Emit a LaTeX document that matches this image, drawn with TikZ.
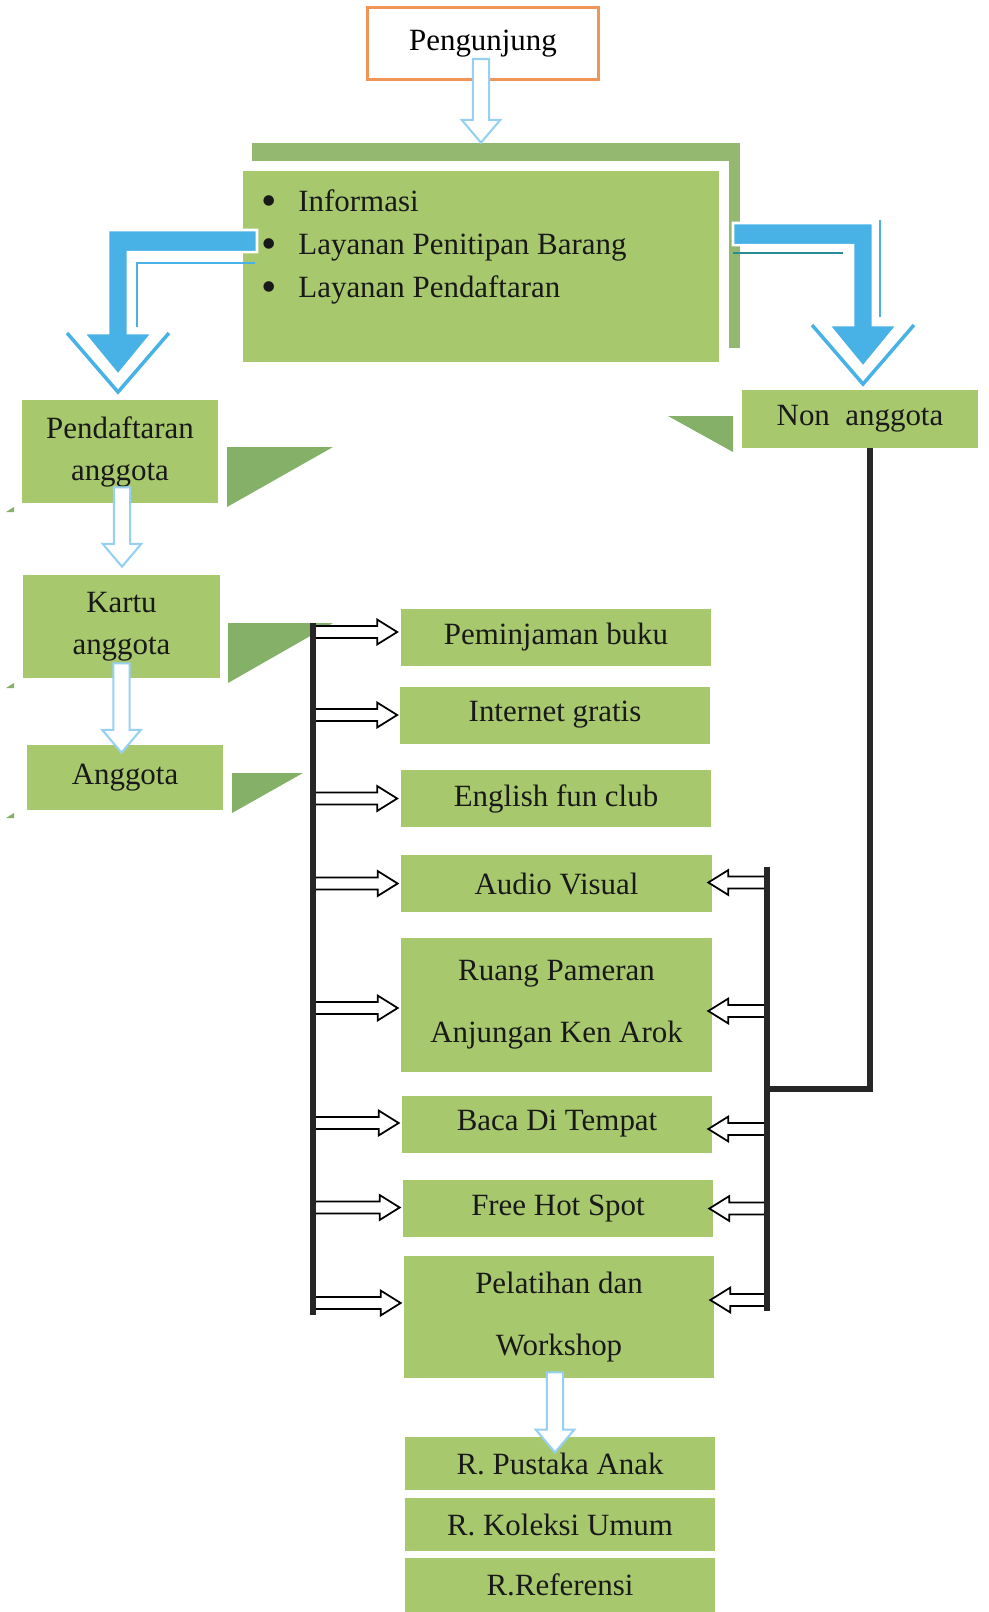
\documentclass[tikz,border=0pt]{standalone}
\usepackage{fontspec}
\setmainfont{Liberation Serif}
\usepackage{xcolor}
\usetikzlibrary{calc,positioning}
\definecolor{boxgreen}{RGB}{168,200,110}
\definecolor{backgreen}{RGB}{148,184,112}
\definecolor{trigreen}{RGB}{132,176,104}
\definecolor{arrowblue}{RGB}{72,178,230}
\definecolor{skyline}{RGB}{150,208,242}
\definecolor{peachline}{RGB}{240,148,88}
\definecolor{tealline}{RGB}{40,140,150}
\tikzset{
  startbox/.style={rectangle, draw=peachline, line width=1.7pt, fill=white,
                   minimum width=4.62cm, minimum height=1.44cm, inner sep=2pt},
  greenbox/.style={rectangle, fill=boxgreen, align=center, inner sep=2pt, text=black!90},
  backbox/.style={rectangle, fill=backgreen, minimum width=9.76cm, minimum height=4.1cm},
  infobox/.style={rectangle, fill=boxgreen, draw=white, line width=0.2cm, inner sep=0pt,
                  minimum width=9.72cm, minimum height=4.02cm, text=black!90},
  svcbox/.style={greenbox, minimum width=6.22cm, minimum height=1.14cm},
  roombox/.style={greenbox, minimum width=6.2cm, minimum height=1.07cm},
  twoline/.style={font=\fontsize{17.6}{23.9}\selectfont},
  wideline/.style={font=\fontsize{17.6}{35.3}\selectfont},
  shadetri/.style={fill=trigreen},
  hollow/.style={draw=black, fill=white, line width=1pt, line join=miter},
  skyhollow/.style={draw=skyline, fill=white, line width=1.2pt},
  bluefat/.style={fill=arrowblue, draw=white, line width=1.5pt},
  blueline/.style={draw=arrowblue, line width=2pt},
  innerline/.style={draw=arrowblue, line width=1.4pt},
  trunk/.style={draw=black!85, line width=3.4pt},
}
\newcommand{\bigdot}{\raisebox{-2.2pt}{\fontsize{25}{25}\selectfont\textbullet}}
% fat hollow arrow, horizontal: from #1 to tip #2
\newcommand{\fatarrow}[2]{%
  \draw[hollow] let \p1=(#1), \p2=(#2), \n1={sign(\x2-\x1)} in
    (\x1,{\y2+3.4pt}) -- ({\x2-(\n1)*11.4pt},{\y2+3.4pt}) -- ({\x2-(\n1)*11.4pt},{\y2+7.1pt})
    -- (\x2,\y2) -- ({\x2-(\n1)*11.4pt},{\y2-7.1pt}) -- ({\x2-(\n1)*11.4pt},{\y2-3.4pt})
    -- (\x1,{\y2-3.4pt}) -- cycle;}
% light blue hollow arrow, downwards: from #1 to tip #2
\newcommand{\skyarrow}[2]{%
  \draw[skyhollow] let \p1=(#1), \p2=(#2) in
    ({\x1-4.6pt},\y1) -- ({\x1-4.6pt},{\y2+13pt}) -- ({\x1-11pt},{\y2+13pt}) -- (\x1,\y2)
    -- ({\x1+11pt},{\y2+13pt}) -- ({\x1+4.6pt},{\y2+13pt}) -- ({\x1+4.6pt},\y1) -- cycle;}
% bent blue arrow: from start #1 to tip #2
\newcommand{\bentarrow}[2]{%
  \draw[bluefat] let \p1=(#1), \p2=(#2), \n1={sign(\x1-\x2)} in
    (\x1,{\y1+6.3pt}) -- ({\x2-(\n1)*5.7pt},{\y1+6.3pt}) -- ({\x2-(\n1)*5.7pt},{\y2+23.9pt})
    -- ({\x2-(\n1)*19.6pt},{\y2+23.9pt}) -- (\x2,\y2) -- ({\x2+(\n1)*19.6pt},{\y2+23.9pt})
    -- ({\x2+(\n1)*5.7pt},{\y2+23.9pt}) -- ({\x2+(\n1)*5.7pt},{\y1-6.3pt}) -- (\x1,{\y1-6.3pt}) -- cycle;
  \draw[blueline] let \p2=(#2) in
    ({\x2-29pt},{\y2+23.9pt}) -- (\x2,{\y2-9.7pt}) -- ({\x2+29pt},{\y2+23.9pt});}

\begin{document}
\begin{tikzpicture}[x=0.02cm, y=-0.02cm, font=\fontsize{17.6}{21}\selectfont]
\useasboundingbox (0,0) rectangle (989,1612);

% top part
\node[startbox] (peng) at (483,43.5) {Pengunjung};
\node[backbox] (infoback) at (496,245.5) {};
\node[infobox, font=\fontsize{17.6}{24.5}\selectfont] (info) at (481,266.5) {%
  \begin{minipage}[c][3.82cm][t]{9.52cm}\vspace*{0.2cm}%
  \hspace*{0.36cm}\begin{tabular}{@{}l@{\hspace{0.44cm}}l@{}}
  \bigdot & Informasi\\
  \bigdot & Layanan Penitipan Barang\\
  \bigdot & Layanan Pendaftaran
  \end{tabular}
  \end{minipage}};
\skyarrow{$(peng.south)+(-2,-22)$}{peng.south |- infoback.north}

\coordinate (lstart) at (257,241);
\coordinate (ltip) at (118,375);
\coordinate (rstart) at (733,234);
\coordinate (rtip) at (863,367);
\bentarrow{lstart}{ltip}
\bentarrow{rstart}{rtip}
\draw[innerline] ($(lstart)+(-2,22)$) -| ($(ltip)+(19,-48)$);
\draw[draw=tealline, line width=1.4pt] ($(rstart)+(0,19)$) -- ($(rstart)+(110,19)$);
\draw[innerline] ($(rtip)+(17,-147)$) -- ($(rtip)+(17,-50)$);

% left column
\node[greenbox, twoline, minimum width=3.92cm, minimum height=2.06cm] (pend) at (120,451.5) {Pendaftaran\\anggota};
\node[greenbox, twoline, minimum width=3.94cm, minimum height=2.06cm] (kartu) at (121.5,626.5) {Kartu\\anggota};
\node[greenbox, minimum width=3.92cm, minimum height=1.3cm] (anggota) at (125,777.5) {Anggota};
\node[greenbox, minimum width=4.72cm, minimum height=1.16cm] (nonang) at (860,419) {Non~~anggota};

\fill[shadetri] (227,447) -- (333,447) -- (227,507) -- cycle;
\fill[shadetri] (228,623) -- (333,623) -- (228,683) -- cycle;
\fill[shadetri] (232,773) -- (303,773) -- (232,813) -- cycle;
\fill[shadetri] (668,416) -- (733,416) -- (733,452) -- cycle;
\fill[shadetri] (6,512) -- (14,507) -- (14,512) -- cycle;
\fill[shadetri] (6,688) -- (14,683) -- (14,688) -- cycle;
\fill[shadetri] (6,818) -- (14,813) -- (14,818) -- cycle;

\skyarrow{$(pend.south)+(2,-16)$}{$(kartu.north)+(0,-8)$}
\skyarrow{$(kartu.south)+(0,-15)$}{$(anggota.north)+(-3,8)$}

% services
\node[svcbox] (pinjam) at (556,637) {Peminjaman buku};
\node[svcbox] (inet) at (555,715) {Internet gratis};
\node[svcbox] (english) at (556,798.5) {English fun club};
\node[svcbox] (audio) at (556.5,883.5) {Audio Visual};
\node[svcbox, wideline, minimum height=2.68cm] (ruang) at (556.5,1005) {Ruang Pameran\\Anjungan Ken Arok};
\node[svcbox, minimum width=6.2cm] (baca) at (557,1124) {Baca Di Tempat};
\node[svcbox, minimum width=6.2cm] (hotspot) at (558,1208.5) {Free Hot Spot};
\node[svcbox, wideline, minimum width=6.2cm, minimum height=2.44cm] (latih) at (559,1317) {Pelatihan dan\\Workshop};
\node[roombox] (pustaka) at (560,1463.5) {R. Pustaka Anak};
\node[roombox] (koleksi) at (560,1524.5) {R. Koleksi Umum};
\node[roombox] (referensi) at (560,1585) {R.Referensi};

\skyarrow{$(latih.south)+(-4,-6)$}{$(pustaka.north)+(-7,16)$}

% connectors
\coordinate (ltop) at (313,623);
\coordinate (lbot) at (313,1315);
\coordinate (rtop) at (767,867);
\coordinate (rbot) at (767,1311);
\coordinate (njoint) at (870,1089);

\fatarrow{ltop |- pinjam.west}{$(pinjam.west)+(-3,-5)$}
\fatarrow{ltop |- inet.west}{$(inet.west)+(-2,0)$}
\fatarrow{ltop |- english.west}{$(english.west)+(-3,0)$}
\fatarrow{ltop |- audio.west}{$(audio.west)+(-3,0)$}
\fatarrow{ltop |- ruang.west}{$(ruang.west)+(-3,3)$}
\fatarrow{ltop |- baca.west}{$(baca.west)+(-3,-1)$}
\fatarrow{ltop |- hotspot.west}{$(hotspot.west)+(-3,-1)$}
\fatarrow{ltop |- latih.west}{$(latih.west)+(-3,-14)$}

\fatarrow{rtop |- audio.east}{$(audio.east)+(-4,-1)$}
\fatarrow{rtop |- ruang.east}{$(ruang.east)+(-4,6)$}
\fatarrow{rtop |- baca.east}{$(baca.east)+(-4,5)$}
\fatarrow{rtop |- hotspot.east}{$(hotspot.east)+(-4,0)$}
\fatarrow{rtop |- latih.east}{$(latih.east)+(-4,-17)$}

\draw[trunk] (ltop) -- (lbot);
\draw[trunk] (rtop) -- (rbot);
\draw[trunk] (nonang.south -| njoint) -- (njoint) -- (rtop |- njoint);
\end{tikzpicture}
\end{document}
